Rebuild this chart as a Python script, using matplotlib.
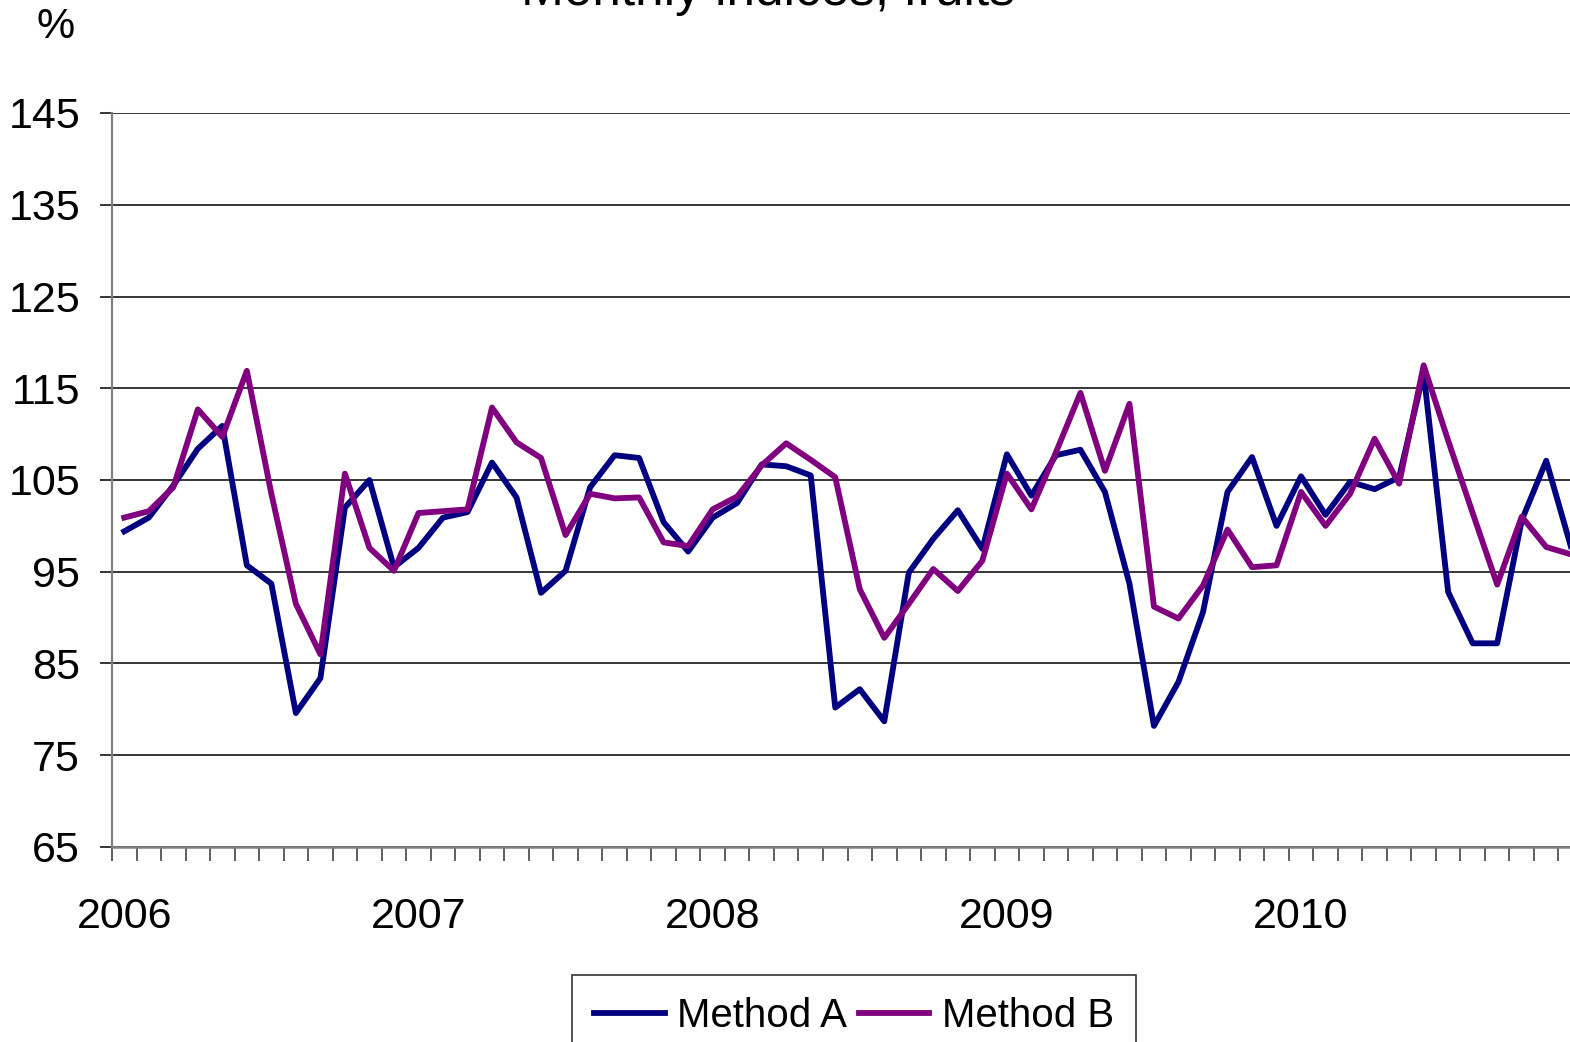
import numpy as np
import matplotlib
matplotlib.use("Agg")
from matplotlib import pyplot as plt

plt.rcParams['font.family'] = ['Liberation Sans', 'DejaVu Sans']

# Monthly values, Jan 2006 .. Dec 2010
method_a = [99.4, 100.9, 104.4, 108.4, 110.9, 95.7, 93.7, 79.6, 83.4, 102.0, 105.0, 95.5,
            97.6, 100.9, 101.5, 106.9, 103.1, 92.7, 95.1, 104.2, 107.7, 107.4, 100.4, 97.2,
            100.9, 102.5, 106.7, 106.5, 105.5, 80.2, 82.2, 78.7, 94.9, 98.6, 101.7, 97.5,
            107.8, 103.3, 107.7, 108.3, 103.7, 93.7, 78.2, 83.0, 90.6, 103.7, 107.5, 100.0,
            105.4, 101.2, 104.8, 104.0, 105.3, 116.7, 92.8, 87.2, 87.2, 100.6, 107.1, 97.8]
method_b = [100.9, 101.6, 104.2, 112.7, 109.7, 116.9, 103.5, 91.5, 86.0, 105.7, 97.6, 95.1,
            101.4, 101.6, 101.8, 112.9, 109.1, 107.4, 99.0, 103.5, 103.0, 103.1, 98.2, 97.8,
            101.8, 103.2, 106.6, 109.0, 107.2, 105.3, 93.1, 87.8, 91.5, 95.3, 92.9, 96.2,
            105.7, 101.8, 108.0, 114.5, 106.0, 113.3, 91.2, 89.9, 93.5, 99.6, 95.5, 95.7,
            103.7, 100.0, 103.5, 109.5, 104.6, 117.5, 109.3, 101.4, 93.6, 101.0, 97.7, 96.9]
years = ['2006', '2007', '2008', '2009', '2010']
y_ticks = [65, 75, 85, 95, 105, 115, 125, 135, 145]

x = np.arange(len(method_a))

fig = plt.figure(figsize=(15.7, 10.42), dpi=100)
ax = fig.add_axes([112 / 1570, 1 - 847 / 1042, 1471 / 1570, 734 / 1042])

ax.plot(x, method_a, color='#000080', lw=4.2, label='Method A')
ax.plot(x, method_b, color='#800080', lw=4.2, label='Method B')

ax.set_xlim(-0.5, len(x) - 0.5)
ax.set_ylim(65, 145)
ax.set_yticks(y_ticks)
ax.set_yticklabels([str(v) for v in y_ticks], fontsize=31)
ax.yaxis.grid(True, color='black', lw=1.1)
ax.set_axisbelow(True)
ax.tick_params(axis='y', length=9, width=1.1, pad=14, color='black')

# month boundary marks and year labels
ax.set_xticks(np.arange(-0.5, len(x) + 0.5, 1), minor=True)
ax.set_xticks(np.arange(0, len(x), 12))
ax.set_xticklabels(years, fontsize=31)
ax.tick_params(axis='x', which='minor', length=10, width=1.1, color='#333333')
ax.tick_params(axis='x', which='major', length=0, pad=36)

for s in ['top', 'right']:
    ax.spines[s].set_visible(False)
ax.spines['left'].set_color('#808080')
ax.spines['left'].set_linewidth(1.6)
ax.spines['bottom'].set_color('#808080')
ax.spines['bottom'].set_linewidth(1.8)

fig.text(768 / 1570, 1 - 5 / 1042, 'Monthly indices, fruits', fontsize=37,
         ha='center', va='baseline')
fig.text(56 / 1570, 1 - 27 / 1042, '%', fontsize=31, ha='center', va='center')

leg = fig.legend(loc='upper center', bbox_to_anchor=(854 / 1570, 1 - 975 / 1042), ncol=2,
                 fontsize=29, frameon=True, fancybox=False, edgecolor='black',
                 handlelength=1.75, handletextpad=0.3, columnspacing=0.3,
                 borderpad=0.55, borderaxespad=0)
leg.get_frame().set_linewidth(1.2)

fig.savefig('out.png', dpi=100)
